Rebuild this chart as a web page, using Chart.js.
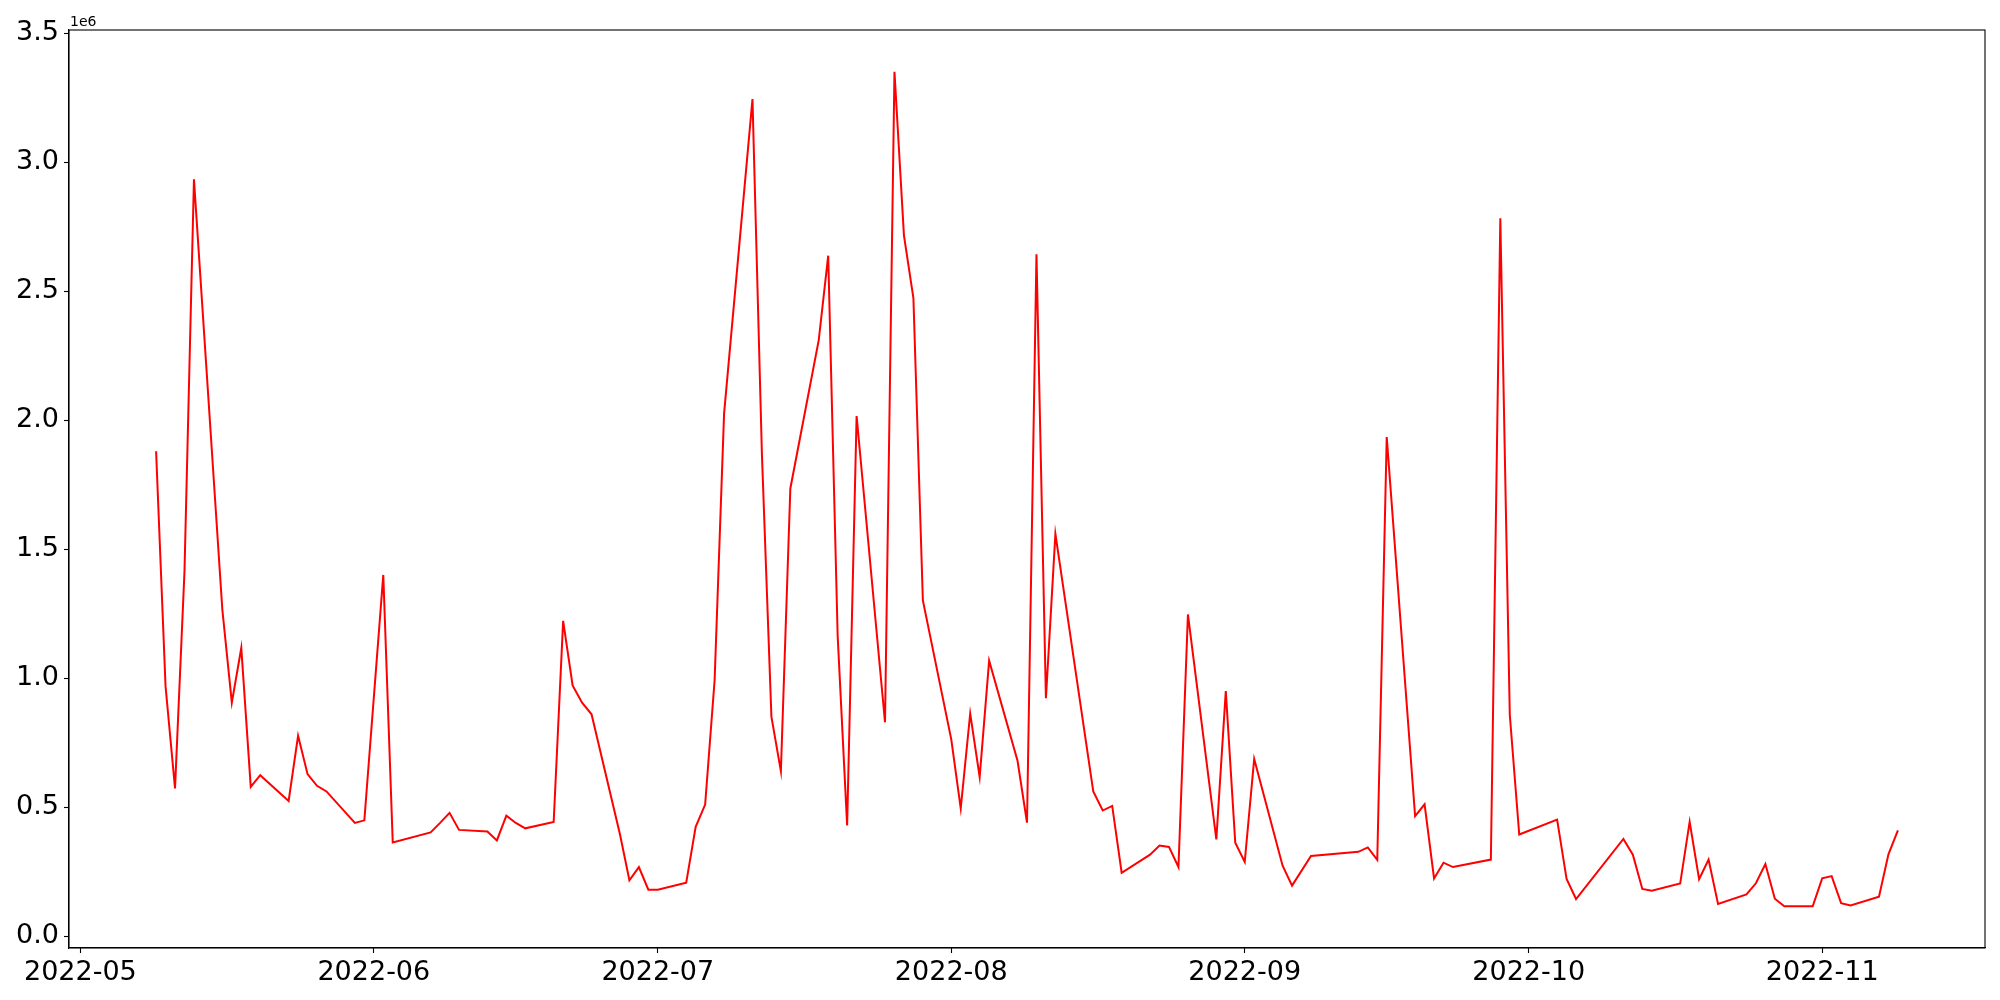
<!DOCTYPE html>
<html>
<head>
<meta charset="utf-8">
<script src="https://cdn.jsdelivr.net/npm/chart.js@4.4.1/dist/chart.umd.min.js"></script>
<style>
  html, body { margin: 0; padding: 0; background: #fff; }
  #wrap { width: 2000px; height: 1000px; }
</style>
</head>
<body>
<div id="wrap"><canvas id="volumeChart" width="2000" height="1000"></canvas></div>
<script>
// dates of the series (trading days, gaps are real gaps)
const dates = [
  "2022-05-09","2022-05-10","2022-05-11","2022-05-12","2022-05-13",
  "2022-05-16","2022-05-17","2022-05-18","2022-05-19","2022-05-20",
  "2022-05-23","2022-05-24","2022-05-25","2022-05-26","2022-05-27",
  "2022-05-30","2022-05-31","2022-06-02","2022-06-03",
  "2022-06-07","2022-06-08","2022-06-09","2022-06-10",
  "2022-06-13","2022-06-14","2022-06-15","2022-06-16","2022-06-17",
  "2022-06-20","2022-06-21","2022-06-22","2022-06-23","2022-06-24",
  "2022-06-27","2022-06-28","2022-06-29","2022-06-30","2022-07-01",
  "2022-07-04","2022-07-05","2022-07-06","2022-07-07","2022-07-08",
  "2022-07-11","2022-07-12","2022-07-13","2022-07-14","2022-07-15",
  "2022-07-18","2022-07-19","2022-07-20","2022-07-21","2022-07-22",
  "2022-07-25","2022-07-26","2022-07-27","2022-07-28","2022-07-29",
  "2022-08-01","2022-08-02","2022-08-03","2022-08-04","2022-08-05",
  "2022-08-08","2022-08-09","2022-08-10","2022-08-11","2022-08-12",
  "2022-08-16","2022-08-17","2022-08-18","2022-08-19",
  "2022-08-22","2022-08-23","2022-08-24","2022-08-25","2022-08-26",
  "2022-08-29","2022-08-30","2022-08-31","2022-09-01","2022-09-02",
  "2022-09-05","2022-09-06","2022-09-08",
  "2022-09-13","2022-09-14","2022-09-15","2022-09-16",
  "2022-09-19","2022-09-20","2022-09-21","2022-09-22","2022-09-23",
  "2022-09-27","2022-09-28","2022-09-29","2022-09-30",
  "2022-10-04","2022-10-05","2022-10-06",
  "2022-10-11","2022-10-12","2022-10-13","2022-10-14",
  "2022-10-17","2022-10-18","2022-10-19","2022-10-20","2022-10-21",
  "2022-10-24","2022-10-25","2022-10-26","2022-10-27","2022-10-28",
  "2022-10-31","2022-11-01","2022-11-02","2022-11-03","2022-11-04",
  "2022-11-07","2022-11-08","2022-11-09"
];

// values
const volumes = [
  1880000, 969000, 574000, 1415000, 2934000,
  1266000, 906000, 1118000, 580000, 625000,
  525000, 778000, 629000, 584000, 562000,
  440000, 450000, 1401000, 364000,
  403000, 440000, 479000, 413000,
  407000, 372000, 468000, 440000, 419000,
  444000, 1223000, 973000, 906000, 861000,
  396000, 218000, 269000, 181000, 181000,
  208000, 425000, 511000, 993000, 2026000,
  3245000, 1867000, 852000, 641000, 1736000,
  2311000, 2638000, 1164000, 430000, 2017000,
  830000, 3351000, 2717000, 2474000, 1302000,
  764000, 496000, 864000, 618000, 1069000,
  681000, 441000, 2644000, 923000, 1560000,
  562000, 488000, 506000, 247000,
  317000, 352000, 347000, 269000, 1248000,
  376000, 951000, 363000, 289000, 688000,
  274000, 197000, 312000,
  328000, 345000, 297000, 1935000,
  466000, 512000, 225000, 286000, 269000,
  298000, 2783000, 859000, 395000,
  453000, 223000, 145000,
  378000, 317000, 184000, 177000,
  205000, 444000, 222000, 298000, 126000,
  163000, 206000, 281000, 146000, 117000,
  117000, 225000, 234000, 129000, 120000,
  154000, 318000, 411000
];

// axis ticks
const xTickDates = ["2022-05-01","2022-06-01","2022-07-01","2022-08-01","2022-09-01","2022-10-01","2022-11-01"];
const xTickLabels = ["2022-05","2022-06","2022-07","2022-08","2022-09","2022-10","2022-11"];
const yTicks = [0, 500000, 1000000, 1500000, 2000000, 2500000, 3000000, 3500000];

const toMs = (d) => Date.parse(d + "T00:00:00Z");
const points = dates.map((d, i) => ({ x: toMs(d), y: volumes[i] }));

// matplotlib style 5% margins
const xFirst = points[0].x, xLast = points[points.length - 1].x;
const xPad = (xLast - xFirst) * 0.05;
const yLo = Math.min(...volumes), yHi = Math.max(...volumes);
const yPad = (yHi - yLo) * 0.05;

const tickFont = { family: "DejaVu Sans", size: 27 };

// frame around the plot + the "1e6" offset text
const framePlugin = {
  id: "frame",
  afterDraw(chart) {
    const { ctx, chartArea: a } = chart;
    ctx.save();
    ctx.strokeStyle = "#000";
    ctx.lineWidth = 1.1;
    ctx.strokeRect(a.left, a.top, a.right - a.left, a.bottom - a.top);
    ctx.fillStyle = "#000";
    ctx.font = "14px 'DejaVu Sans'";
    ctx.textAlign = "left";
    ctx.textBaseline = "alphabetic";
    ctx.fillText("1e6", a.left + 1, a.top - 4);
    ctx.restore();
  }
};

new Chart(document.getElementById("volumeChart"), {
  type: "line",
  data: {
    datasets: [{
      data: points,
      borderColor: "#ff0000",
      borderWidth: 2,
      pointRadius: 0,
      tension: 0,
      fill: false,
    }],
  },
  options: {
    responsive: false,
    devicePixelRatio: 1,
    animation: false,
    layout: { padding: { top: 30, right: 15, left: 0, bottom: 0 } },
    scales: {
      x: {
        type: "linear",
        min: xFirst - xPad,
        max: xLast + xPad,
        afterBuildTicks: (axis) => { axis.ticks = xTickDates.map(d => ({ value: toMs(d) })); },
        afterFit: (axis) => { axis.height = 52; },
        grid: { drawOnChartArea: false, drawTicks: true, tickLength: 5, color: "#000", tickWidth: 1.1 },
        border: { display: true, color: "#000", width: 1.1 },
        ticks: {
          autoSkip: false,
          maxRotation: 0,
          padding: 4,
          color: "#000",
          font: tickFont,
          callback: (v) => {
            const i = xTickDates.findIndex(d => toMs(d) === v);
            return i >= 0 ? xTickLabels[i] : "";
          },
        },
      },
      y: {
        min: yLo - yPad,
        max: yHi + yPad,
        afterBuildTicks: (axis) => { axis.ticks = yTicks.map(v => ({ value: v })); },
        afterFit: (axis) => { axis.width = 69; },
        grid: { drawOnChartArea: false, drawTicks: true, tickLength: 5, color: "#000", tickWidth: 1.1 },
        border: { display: true, color: "#000", width: 1.1 },
        ticks: {
          padding: 5,
          color: "#000",
          font: tickFont,
          callback: (v) => (v / 1e6).toFixed(1),
        },
      },
    },
    plugins: {
      legend: { display: false },
      tooltip: { enabled: false },
    },
  },
  plugins: [framePlugin],
});
</script>
</body>
</html>
